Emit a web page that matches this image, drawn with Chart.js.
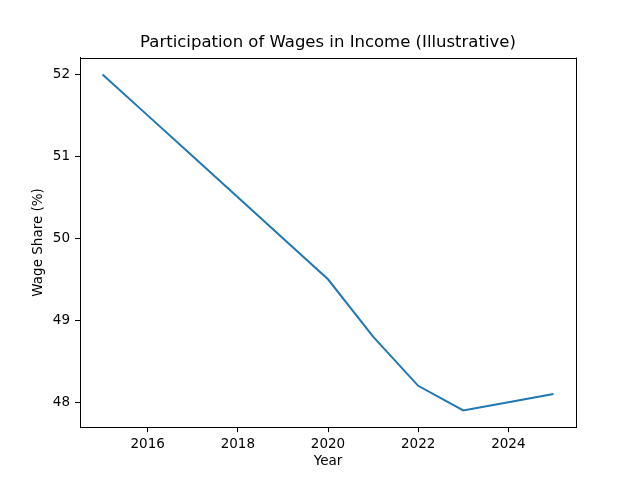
<!DOCTYPE html>
<html>
<head>
<meta charset="utf-8">
<script src="https://cdn.jsdelivr.net/npm/chart.js@4/dist/chart.umd.min.js"></script>
<style>
html,body{margin:0;padding:0;background:#fff;}
#wrap{width:640px;height:480px;position:relative;}
</style>
</head>
<body>
<div id="wrap"><canvas id="c" width="640" height="480"></canvas></div>
<script>
const years = [2015, 2016, 2017, 2018, 2019, 2020, 2021, 2022, 2023, 2024, 2025];
const wageShare = [52.0, 51.5, 51.0, 50.5, 50.0, 49.5, 48.8, 48.2, 47.9, 48.0, 48.1];
const xTicks = [2016, 2018, 2020, 2022, 2024];
const yTicks = [48, 49, 50, 51, 52];
const chartTitle = 'Participation of Wages in Income (Illustrative)';

const FONT = "'DejaVu Sans', sans-serif";

const frame = {
  id: 'frame',
  afterDraw(chart) {
    const {ctx, chartArea: a} = chart;
    ctx.save();
    ctx.strokeStyle = '#000';
    ctx.lineWidth = 1;
    ctx.beginPath();
    ctx.moveTo(a.left, Math.round(a.top) + 0.5);
    ctx.lineTo(a.right, Math.round(a.top) + 0.5);
    ctx.moveTo(Math.round(a.right) + 0.5, a.top);
    ctx.lineTo(Math.round(a.right) + 0.5, a.bottom);
    ctx.stroke();
    ctx.fillStyle = '#000';
    ctx.font = '16.5px ' + FONT;
    ctx.textAlign = 'center';
    ctx.textBaseline = 'middle';
    ctx.fillText(chartTitle, (a.left + a.right) / 2, 43);
    ctx.restore();
  }
};

new Chart(document.getElementById('c'), {
  type: 'line',
  data: {
    datasets: [{
      data: years.map((y, i) => ({x: y, y: wageShare[i]})),
      borderColor: '#1f77b4',
      borderWidth: 2,
      pointRadius: 0,
      tension: 0,
      fill: false
    }]
  },
  options: {
    responsive: false,
    animation: false,
    devicePixelRatio: 1,
    layout: {padding: {left: 0, right: 64, top: 57.6, bottom: 0}},
    plugins: {
      legend: {display: false},
      tooltip: {enabled: false},
      title: {display: false}
    },
    scales: {
      x: {
        type: 'linear',
        min: 2014.5,
        max: 2025.5,
        afterBuildTicks(s) { s.ticks = xTicks.map(v => ({value: v})); },
        afterFit(s) { s.height = 52.8; },
        grid: {display: true, drawOnChartArea: false, drawTicks: true, tickLength: 5, color: '#000', tickWidth: 1},
        border: {display: true, color: '#000', width: 1},
        ticks: {color: '#000', font: {family: FONT, size: 13.5}, padding: 4, maxRotation: 0, callback: v => String(v)},
        title: {display: true, text: 'Year', color: '#000', font: {family: FONT, size: 13.5}, padding: {top: 0, bottom: 10}}
      },
      y: {
        type: 'linear',
        min: 47.695,
        max: 52.205,
        afterBuildTicks(s) { s.ticks = yTicks.map(v => ({value: v})); },
        afterFit(s) { s.width = 80; },
        grid: {display: true, drawOnChartArea: false, drawTicks: true, tickLength: 5, color: '#000', tickWidth: 1},
        border: {display: true, color: '#000', width: 1},
        ticks: {color: '#000', font: {family: FONT, size: 13.5}, padding: 5, callback: v => String(v)},
        title: {display: true, text: 'Wage Share (%)', color: '#000', font: {family: FONT, size: 13.5}, padding: {top: 30, bottom: 0}}
      }
    }
  },
  plugins: [frame]
});
</script>
</body>
</html>
